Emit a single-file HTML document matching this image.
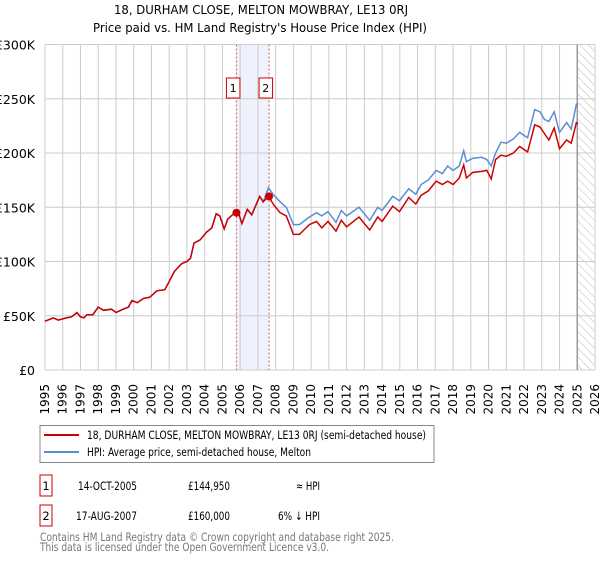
<!DOCTYPE html>
<html><head><meta charset="utf-8"><style>
body{margin:0;background:#fff;font-family:"DejaVu Sans","Liberation Sans",sans-serif;}
svg text{font-family:"DejaVu Sans","Liberation Sans",sans-serif;}
</style></head><body>
<svg id="c" width="600" height="560" xmlns="http://www.w3.org/2000/svg">
<defs><pattern id="hatch" width="6" height="6" patternUnits="userSpaceOnUse" patternTransform="rotate(-45)"><line x1="0" y1="0" x2="0" y2="6" stroke="#bbb" stroke-width="1"/></pattern></defs>
<text x="114" y="14" font-size="12.5" textLength="294" lengthAdjust="spacingAndGlyphs" fill="#000">18, DURHAM CLOSE, MELTON MOWBRAY, LE13 0RJ</text>
<text x="93" y="32" font-size="12.5" textLength="334" lengthAdjust="spacingAndGlyphs" fill="#000">Price paid vs. HM Land Registry's House Price Index (HPI)</text>
<g id="grid"></g><g id="marks"></g><g id="axes"></g>
<rect x="40" y="425.5" width="394" height="37" fill="#fff" stroke="#888"/>
<line x1="44" y1="435" x2="79" y2="435" stroke="#cc0000" stroke-width="2"/>
<text x="87" y="439" font-size="11.5" textLength="339" lengthAdjust="spacingAndGlyphs">18, DURHAM CLOSE, MELTON MOWBRAY, LE13 0RJ (semi-detached house)</text>
<line x1="44" y1="452" x2="79" y2="452" stroke="#5b8dd6" stroke-width="2"/>
<text x="87" y="456" font-size="11.5" textLength="224" lengthAdjust="spacingAndGlyphs">HPI: Average price, semi-detached house, Melton</text>
<g>
<rect x="40" y="475" width="12" height="21" fill="#fff" stroke="#cc0000"/>
<text x="46" y="490" text-anchor="middle" font-size="11.5">1</text>
<text x="78" y="490" font-size="11.5" textLength="59" lengthAdjust="spacingAndGlyphs">14-OCT-2005</text>
<text x="188" y="490" font-size="11.5" textLength="42" lengthAdjust="spacingAndGlyphs">£144,950</text>
<text x="296" y="490" font-size="11.5" textLength="24" lengthAdjust="spacingAndGlyphs">≈ HPI</text></g>
<g>
<rect x="40" y="505" width="12" height="21" fill="#fff" stroke="#cc0000"/>
<text x="46" y="520" text-anchor="middle" font-size="11.5">2</text>
<text x="76" y="520" font-size="11.5" textLength="61" lengthAdjust="spacingAndGlyphs">17-AUG-2007</text>
<text x="188" y="520" font-size="11.5" textLength="42" lengthAdjust="spacingAndGlyphs">£160,000</text>
<text x="278" y="520" font-size="11.5" textLength="42" lengthAdjust="spacingAndGlyphs">6% ↓ HPI</text></g>
<text x="40" y="541" font-size="11.5" textLength="354" lengthAdjust="spacingAndGlyphs" fill="#777">Contains HM Land Registry data © Crown copyright and database right 2025.</text>
<text x="40" y="551" font-size="11.5" textLength="289" lengthAdjust="spacingAndGlyphs" fill="#777">This data is licensed under the Open Government Licence v3.0.</text>
</svg>
<script>
const years=[1995.0,1995.47,1995.75,1996.2,1996.5,1996.8,1997.0,1997.2,1997.35,1997.7,1998.0,1998.3,1998.75,1999.0,1999.4,1999.7,1999.9,2000.2,2000.55,2000.9,2001.3,2001.75,2001.95,2002.3,2002.7,2003.0,2003.2,2003.4,2003.75,2004.1,2004.4,2004.65,2004.85,2005.1,2005.3,2005.7,2005.9,2006.1,2006.4,2006.65,2007.1,2007.3,2007.6,2007.9,2008.25,2008.6,2009.0,2009.34,2009.9,2010.3,2010.6,2010.95,2011.4,2011.7,2012.0,2012.7,2013.3,2013.75,2014.0,2014.6,2014.98,2015.5,2015.9,2016.2,2016.6,2017.05,2017.4,2017.7,2018.0,2018.35,2018.6,2018.75,2019.1,2019.6,2019.9,2020.15,2020.4,2020.7,2021.0,2021.4,2021.75,2022.2,2022.6,2022.9,2023.15,2023.4,2023.7,2024.0,2024.4,2024.66,2024.95,2025.05];
const hpi=[45,48,46,48,49,53,49,48,51,51,58,55,56,53,56,58,64,62,66,67,73,74,80,91,98,100,103,117,120,127,131,144,142,130,139,145,145,135,148,143,160,155,168,161,155,150,134,134,141,145,142,146,136,147,142,150,138,150,147,160,156,167,162,171,175,184,181,188,184,188,202,192,195,196,194,188,200,210,209,213,219,214,240,238,231,229,238,219,228,222,245,244];
const price=[45,48,46,48,49,53,49,48,51,51,58,55,56,53,56,58,64,62,66,67,73,74,80,91,98,100,103,117,120,127,131,144,142,130,139,145,145,135,148,143,160,155,160,152,145,142,125,125,134,137,131,137,128,138,132,141,129,141,137,151,146,159,153,161,165,174,171,174,171,177,189,177,182,183,184,176,194,198,197,200,206,201,226,224,218,212,223,204,212,209,228,227];
const saleYears=[2005.79,2007.63];
const saleValues=[144.95,160];
const yTicks=[0,50,100,150,200,250,300];
const yLabels=["£0","£50K","£100K","£150K","£200K","£250K","£300K"];
const xTicks=[1995,1996,1997,1998,1999,2000,2001,2002,2003,2004,2005,2006,2007,2008,2009,2010,2011,2012,2013,2014,2015,2016,2017,2018,2019,2020,2021,2022,2023,2024,2025,2026];
const X0=45,X1=595,Y0=370,Y1=44.5;
const xs=y=>X0+(y-1995)/(2026-1995)*(X1-X0);
const ys=v=>Y0-v/300*(Y0-Y1);
const NS="http://www.w3.org/2000/svg";
function mk(t,a,p){const e=document.createElementNS(NS,t);for(const k in a)e.setAttribute(k,a[k]);p.appendChild(e);return e;}
const grid=document.getElementById('grid'),marks=document.getElementById('marks'),axes=document.getElementById('axes');
const shade=mk('rect',{x:xs(saleYears[0]),y:Y1,width:xs(saleYears[1])-xs(saleYears[0]),height:Y0-Y1,fill:'#eef2fc'},grid);


const hat=mk('rect',{x:xs(2025),y:Y1,width:X1-xs(2025),height:Y0-Y1,fill:'url(#hatch)'},grid);


yTicks.forEach((t,i)=>{
 const l=mk('line',{x1:X0,x2:X1,y1:ys(t),y2:ys(t),stroke:'#ccc'},grid);
 
 
 const tx=mk('text',{x:35,y:ys(t)+5,'text-anchor':'end','font-size':'12.5'},axes);tx.textContent=yLabels[i];
 
 
});
xTicks.forEach(t=>{
 const l=mk('line',{x1:xs(t),x2:xs(t),y1:Y1,y2:Y0,stroke:'#ccc'},grid);
 
 
 const tx=mk('text',{x:xs(t),y:384,'text-anchor':'end','font-size':'12',transform:`rotate(-90 ${xs(t)} 384)`,dy:'4'},axes);tx.textContent=t;
 
 
});
const vl=mk('line',{x1:xs(2025),x2:xs(2025),y1:Y1,y2:Y0,stroke:'#999','stroke-width':1.5},grid);


saleYears.forEach((s,i)=>{
 const l=mk('line',{x1:xs(s),x2:xs(s),y1:Y1,y2:Y0,stroke:'#e55','stroke-dasharray':'2,2'},marks);
 
 
 const r=mk('rect',{x:xs(s)-10,y:78,width:13.5,height:20,fill:'#fff',stroke:'#cc0000'},marks);
 
 
 const tx=mk('text',{x:xs(s)-3.3,y:92,'text-anchor':'middle','font-size':'11'},marks);tx.textContent=String(i+1);
 
 
});
const pts=a=>a.map((v,i)=>xs(years[i]).toFixed(1)+','+ys(v).toFixed(1)).join(' ');
const hl=mk('polyline',{points:pts(hpi),fill:'none',stroke:'#5b8dd6','stroke-width':1.5},marks);


const pl=mk('polyline',{points:pts(price),fill:'none',stroke:'#cc0000','stroke-width':1.5},marks);


saleYears.forEach((s,i)=>{
 const c=mk('circle',{cx:xs(s),cy:ys(saleValues[i]),r:4,fill:'#cc0000'},marks);
 
 
});
</script>
</body></html>
